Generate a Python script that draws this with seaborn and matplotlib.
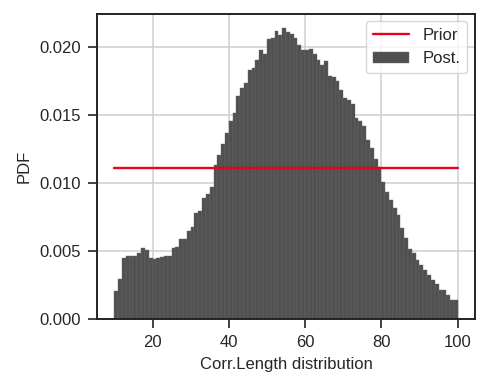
import numpy as np
import pandas as pd
import matplotlib
matplotlib.use("Agg")
import matplotlib.pyplot as plt
import seaborn as sns

# Posterior histogram: bin left edges (width 1) and PDF heights
bin_left = list(range(10, 100))
post_pdf = [
    0.00208, 0.00294, 0.00453, 0.00466, 0.00468, 0.00470, 0.00490, 0.00527, 0.00510, 0.00449,
    0.00445, 0.00449, 0.00460, 0.00470, 0.00470, 0.00527, 0.00530, 0.00590, 0.00592, 0.00650,
    0.00680, 0.00780, 0.00800, 0.00890, 0.00920, 0.00970, 0.01135, 0.01210, 0.01290, 0.01370,
    0.01460, 0.01520, 0.01640, 0.01700, 0.01740, 0.01830, 0.01850, 0.01910, 0.01980, 0.01950,
    0.02060, 0.02070, 0.02120, 0.02090, 0.02140, 0.02110, 0.02100, 0.02070, 0.02020, 0.01980,
    0.01980, 0.01990, 0.01950, 0.01910, 0.01870, 0.01900, 0.01790, 0.01780, 0.01750, 0.01690,
    0.01630, 0.01610, 0.01580, 0.01480, 0.01460, 0.01420, 0.01320, 0.01260, 0.01180, 0.01120,
    0.01010, 0.00940, 0.00880, 0.00820, 0.00770, 0.00670, 0.00600, 0.00520, 0.00490, 0.00440,
    0.00400, 0.00360, 0.00330, 0.00290, 0.00260, 0.00220, 0.00220, 0.00180, 0.00140, 0.00140,
]
bin_edges = list(range(10, 101))

# Uniform prior
prior_x = [10, 100]
prior_pdf = [0.0111, 0.0111]

sns.set_style("ticks", {"axes.grid": True, "grid.color": "#cfcfcf",
                        "axes.edgecolor": "#222222"})
plt.rcParams["font.family"] = ["Liberation Sans", "DejaVu Sans"]
plt.rcParams["font.size"] = 12
plt.rcParams["grid.linewidth"] = 1.1

fig, ax = plt.subplots(figsize=(4.91, 3.92), dpi=100)
fig.subplots_adjust(left=0.198, right=0.967, top=0.965, bottom=0.185)

df = pd.DataFrame({"x": [b + 0.5 for b in bin_left], "w": post_pdf})
sns.histplot(data=df, x="x", weights="w", bins=bin_edges, stat="count",
             color="#505050", alpha=1.0, edgecolor="#6a6a6a", linewidth=0.3,
             label="Post.", ax=ax)
sns.lineplot(x=prior_x, y=prior_pdf, color="#e8001c", linewidth=1.7,
             label="Prior", ax=ax)

ax.set_xlabel("Corr.Length distribution", fontsize=12, labelpad=5)
ax.set_ylabel("PDF", fontsize=12, labelpad=6)
ax.set_xticks([20, 40, 60, 80, 100])
ax.set_yticks([0.0, 0.005, 0.010, 0.015, 0.020])
ax.yaxis.set_major_formatter(matplotlib.ticker.FormatStrFormatter("%.3f"))
ax.tick_params(axis="both", direction="out", length=6.5, width=1.2,
               labelsize=12, color="#222222", pad=5)
for s in ax.spines.values():
    s.set_linewidth(1.4)
ax.set_axisbelow(True)

handles, labels = ax.get_legend_handles_labels()
order = [labels.index("Prior"), labels.index("Post.")]
ax.legend([handles[i] for i in order], [labels[i] for i in order],
          loc="upper right", fontsize=12, frameon=True, handlelength=2.2,
          borderaxespad=0.45)

fig.savefig("out.png", dpi=100)
